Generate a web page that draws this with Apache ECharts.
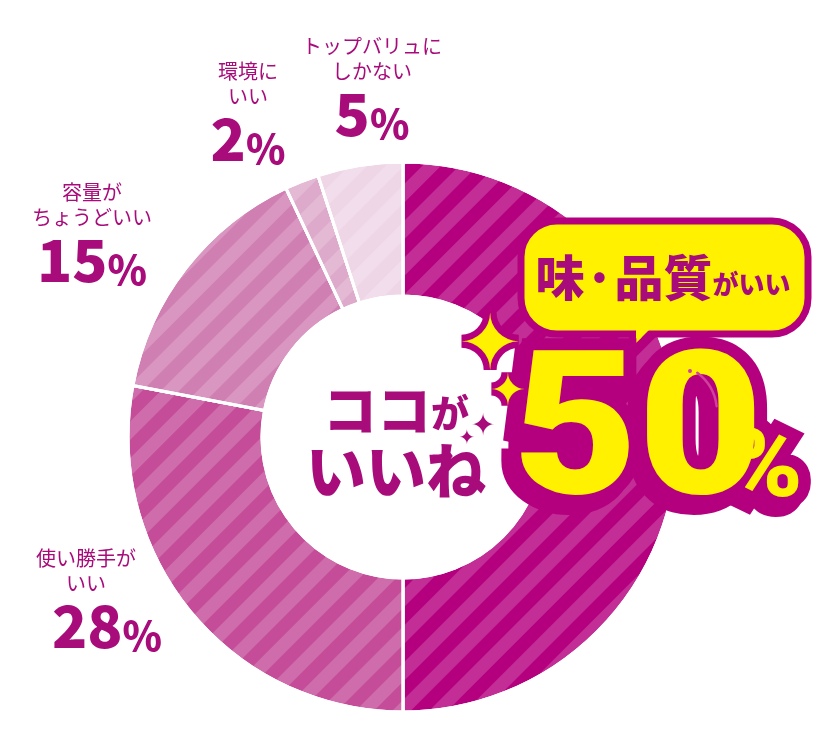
<!DOCTYPE html>
<html>
<head>
<meta charset="utf-8">
<script src="https://cdn.jsdelivr.net/npm/echarts@6/dist/echarts.min.js"></script>
<style>
html,body{margin:0;padding:0;background:#fff;}
#chart{width:840px;height:747px;}
</style>
</head>
<body>
<div id="chart"></div>
<script>
// ---- data ----
const categories = ['味·品質がいい', '使い勝手が\nいい', '容量が\nちょうどいい', '環境に\nいい', 'トップバリュに\nしかない'];
const values = [50, 28, 15, 2, 5];
const centerTitle = ['ココが', 'いいね'];

// ---- styles / layout ----
const sliceColors = ['#b4007e', '#c44c98', '#cf7fb2', '#ddaacb', '#eed6e6'];
const labelAnchors = [null, [86, 546], [92, 180], [248, 59], [372, 34]];
const numberShift = [0, 42, 0, 0, 0];
const MAGENTA = '#a80c7b';
const DEEP = '#b4007e';
const YELLOW = '#fff100';
const JP = '"Noto Sans CJK JP", "Noto Sans", sans-serif';
const NUMF = 'Roboto, "Noto Sans", sans-serif';

const stripe = {
  symbol: 'rect', symbolSize: 1,
  color: 'rgba(255,255,255,0.18)',
  dashArrayX: [1, 0], dashArrayY: [13, 13],
  rotation: -Math.PI / 4
};

const pieData = categories.map((name, i) => ({
  name: name,
  value: values[i],
  itemStyle: { color: sliceColors[i], decal: stripe },
  label: { show: i !== 0 }
}));

const chart = echarts.init(document.getElementById('chart'), null, { renderer: 'canvas' });

// sparkle drawn as a four-pointed star glyph
function star(cx, cy, size, fill, stroke, lw, z) {
  const base = { text: '\u2726', x: 0, y: 0, align: 'center', verticalAlign: 'middle',
    fontFamily: '"DejaVu Sans", sans-serif', fontSize: size };
  const els = [];
  if (stroke) {
    els.push({ type: 'text', z: z, x: cx, y: cy,
      style: Object.assign({}, base, { fill: stroke, stroke: stroke, lineWidth: lw, lineJoin: 'round' }) });
  }
  els.push({ type: 'text', z: z + 1, x: cx, y: cy, style: Object.assign({}, base, { fill: fill }) });
  return els;
}

const topName = categories[0];
const tailMatch = topName.match(/^(.*?)(がいい)$/);
const bubbleText = '{m|' + tailMatch[1] + '}{s|' + tailMatch[2] + '}';

function bigText(text, x, y, size, sx, z) {
  const base = { text: text, x: 0, y: 0, align: 'center', verticalAlign: 'middle',
    fontFamily: NUMF, fontSize: size, fontWeight: 900 };
  return [
    { type: 'text', z: z, x: x - 7, y: y + 8, scaleX: sx, style: Object.assign({}, base, { fill: DEEP, stroke: DEEP, lineWidth: 24, lineJoin: 'round' }) },
    { type: 'text', z: z + 1, x: x, y: y, scaleX: sx, style: Object.assign({}, base, { fill: DEEP, stroke: DEEP, lineWidth: 24, lineJoin: 'round' }) },
    { type: 'text', z: z + 2, x: x, y: y, scaleX: sx, style: Object.assign({}, base, { fill: YELLOW }) }
  ];
}

const graphics = [
  // bubble tail (outline)
  { type: 'polygon', z: 100, shape: { points: [[632, 328], [633, 350], [657, 328]] },
    style: { fill: YELLOW, stroke: DEEP, lineWidth: 7, lineJoin: 'round' } },
  // bubble
  { type: 'rect', z: 101, shape: { x: 521, y: 221, width: 287, height: 113, r: 36 },
    style: { fill: YELLOW, stroke: DEEP, lineWidth: 7 } },
  // tail cover
  { type: 'polygon', z: 102, shape: { points: [[636, 328], [636, 343], [651, 328]] },
    style: { fill: YELLOW } },
  { type: 'text', z: 103, style: {
      text: bubbleText, x: 663, y: 277, align: 'center', verticalAlign: 'middle',
      rich: {
        m: { fontFamily: JP, fontSize: 49, fontWeight: 900, fill: MAGENTA },
        s: { fontFamily: JP, fontSize: 26, fontWeight: 900, fill: MAGENTA, verticalAlign: 'bottom', padding: [0, 0, 4, 0] }
      }
  } },
  // center title
  { type: 'text', z: 106, style: {
      text: '{a|' + centerTitle[0].slice(0, 2) + '}{b|' + centerTitle[0].slice(2) + '}\n{c|' + centerTitle[1] + '}',
      x: 396, y: 441, align: 'center', verticalAlign: 'middle',
      rich: {
        a: { fontFamily: JP, fontSize: 54, fontWeight: 900, fill: MAGENTA, lineHeight: 60 },
        b: { fontFamily: JP, fontSize: 38, fontWeight: 900, fill: MAGENTA, lineHeight: 60, verticalAlign: 'bottom', padding: [0, 0, 8, 0] },
        c: { fontFamily: JP, fontSize: 60, fontWeight: 900, fill: MAGENTA, lineHeight: 62 }
      }
  } }
].concat(
  bigText(String(values[0]), 638, 443, 200, 1.08, 110),
  bigText('%', 766, 472, 94, 1.05, 110),
  [
    { type: 'arc', z: 115, shape: { cx: 668, cy: 412, r: 49, startAngle: -0.93, endAngle: -0.12 },
      style: { stroke: '#d0409c', lineWidth: 2.5, lineCap: 'round', fill: null } },
    { type: 'circle', z: 115, shape: { cx: 690, cy: 371, r: 2 }, style: { fill: '#d0409c' } }
  ],
  star(490, 349, 76, YELLOW, DEEP, 13, 120),
  star(508, 394, 44, YELLOW, DEEP, 13, 120),
  star(483, 427, 30, MAGENTA, null, 0, 120),
  star(467, 439, 20, MAGENTA, null, 0, 120)
);

chart.setOption({
  animation: false,
  backgroundColor: '#ffffff',
  series: [{
    type: 'pie',
    center: [403, 437],
    radius: [141, 275],
    startAngle: 90,
    clockwise: true,
    avoidLabelOverlap: false,
    itemStyle: { borderColor: '#ffffff', borderWidth: 3 },
    label: {
      position: 'outside',
      formatter: p => {
        const s = numberShift[p.dataIndex] ? 'S' : '';
        return '{t|' + p.name + '}\n{n' + s + '|' + p.value + '}{p|%}';
      },
      rich: {
        t: { fontFamily: JP, fontSize: 20, color: MAGENTA, lineHeight: 25, align: 'center' },
        n: { fontFamily: JP, fontSize: 58, fontWeight: 900, color: MAGENTA, lineHeight: 60 },
        nS: { fontFamily: JP, fontSize: 58, fontWeight: 900, color: MAGENTA, lineHeight: 60, padding: [0, 0, 0, 42] },
        p: { fontFamily: JP, fontSize: 40, fontWeight: 900, color: MAGENTA, verticalAlign: 'bottom' }
      }
    },
    labelLine: { show: false },
    labelLayout: function (params) {
      const a = labelAnchors[params.dataIndex];
      if (!a) return {};
      return { x: a[0], y: a[1], align: 'center', verticalAlign: 'top' };
    },
    emphasis: { disabled: true },
    data: pieData
  }],
  graphic: { elements: graphics }
});
</script>
</body>
</html>
